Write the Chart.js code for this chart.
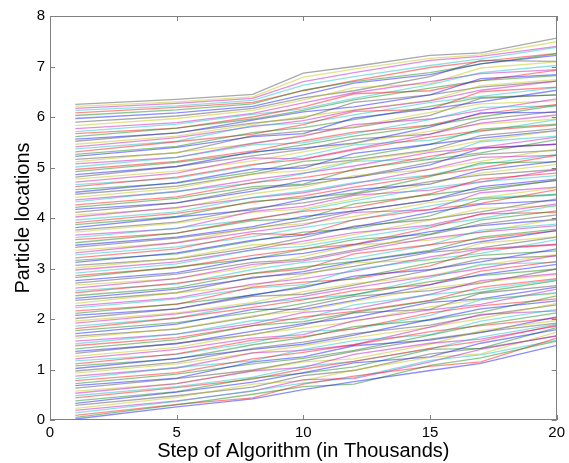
<!DOCTYPE html>
<html>
<head>
<meta charset="utf-8">
<script src="https://cdn.jsdelivr.net/npm/chart.js@4"></script>
<style>
  html, body { margin: 0; padding: 0; background: #fff; }
</style>
</head>
<body>
<canvas id="plot" width="569" height="463"></canvas>
<script>
const steps = [1, 5, 8, 10, 12, 15, 17, 20];

// particle positions, one array per step, one entry per particle
const pos1 = [
  0.02,0.05,0.09,0.14,0.19,0.23,0.29,0.33,0.38,0.44,
  0.48,0.53,0.57,0.63,0.68,0.72,0.78,0.82,0.87,0.93,
  0.97,1.02,1.07,1.11,1.17,1.21,1.26,1.32,1.36,1.41,
  1.47,1.51,1.56,1.62,1.66,1.71,1.77,1.81,1.86,1.92,
  1.96,2.01,2.07,2.11,2.16,2.22,2.26,2.31,2.37,2.41,
  2.46,2.52,2.56,2.61,2.67,2.71,2.76,2.82,2.86,2.91,
  2.97,3.01,3.06,3.12,3.16,3.21,3.27,3.31,3.36,3.42,
  3.46,3.51,3.57,3.61,3.66,3.72,3.76,3.81,3.87,3.91,
  3.96,4.02,4.06,4.11,4.17,4.21,4.26,4.32,4.36,4.41,
  4.47,4.51,4.56,4.62,4.66,4.71,4.77,4.81,4.86,4.92,
  4.96,5.01,5.07,5.11,5.16,5.22,5.26,5.31,5.37,5.41,
  5.46,5.52,5.56,5.61,5.67,5.71,5.77,5.83,5.90,5.97,
  6.03,6.08,6.13,6.17,6.21,6.25
];
const pos5 = [
  0.26,0.30,0.31,0.37,0.38,0.45,0.48,0.55,0.56,0.64,
  0.66,0.72,0.72,0.82,0.83,0.91,0.94,1.04,1.03,1.11,
  1.14,1.22,1.21,1.31,1.30,1.40,1.44,1.52,1.51,1.59,
  1.63,1.70,1.70,1.81,1.80,1.90,1.93,2.02,2.02,2.10,
  2.12,2.20,2.20,2.30,2.29,2.40,2.42,2.52,2.52,2.59,
  2.62,2.71,2.69,2.80,2.80,2.89,2.92,3.03,3.02,3.09,
  3.13,3.20,3.19,3.31,3.29,3.39,3.43,3.51,3.51,3.60,
  3.62,3.70,3.70,3.80,3.79,3.90,3.92,4.02,4.03,4.09,
  4.12,4.21,4.19,4.30,4.30,4.39,4.42,4.53,4.52,4.59,
  4.63,4.70,4.69,4.81,4.79,4.89,4.93,5.02,5.02,5.10,
  5.12,5.20,5.20,5.30,5.29,5.40,5.42,5.51,5.52,5.59,
  5.62,5.69,5.68,5.78,5.78,5.86,5.89,5.97,6.02,6.08,
  6.14,6.19,6.22,6.27,6.30,6.35
];
const pos8 = [
  0.42,0.51,0.44,0.58,0.57,0.71,0.65,0.75,0.83,0.81,
  0.85,0.97,0.98,0.99,1.15,1.11,1.21,1.17,1.33,1.33,
  1.42,1.40,1.49,1.58,1.53,1.62,1.70,1.69,1.76,1.87,
  1.87,1.97,1.91,2.06,2.04,2.19,2.13,2.23,2.31,2.29,
  2.33,2.45,2.48,2.47,2.63,2.61,2.69,2.66,2.83,2.81,
  2.91,2.90,2.98,3.08,3.03,3.12,3.20,3.19,3.26,3.37,
  3.37,3.47,3.41,3.56,3.54,3.69,3.63,3.73,3.81,3.79,
  3.83,3.95,3.98,3.97,4.13,4.11,4.19,4.16,4.33,4.31,
  4.41,4.40,4.48,4.58,4.53,4.62,4.70,4.69,4.76,4.87,
  4.87,4.97,4.91,5.06,5.04,5.19,5.13,5.23,5.31,5.29,
  5.33,5.45,5.48,5.47,5.63,5.61,5.69,5.66,5.83,5.81,
  5.86,5.88,5.94,5.96,6.00,6.05,6.07,6.13,6.17,6.21,
  6.26,6.29,6.33,6.37,6.40,6.45
];
const pos10 = [
  0.60,0.66,0.71,0.73,0.80,0.78,0.88,0.94,0.93,1.01,
  1.06,1.04,1.15,1.17,1.25,1.22,1.34,1.40,1.38,1.47,
  1.54,1.50,1.63,1.65,1.75,1.69,1.82,1.88,1.91,1.95,
  2.04,2.00,2.13,2.16,2.24,2.19,2.31,2.38,2.40,2.45,
  2.54,2.49,2.62,2.65,2.73,2.68,2.80,2.87,2.90,2.94,
  3.03,2.99,3.12,3.15,3.24,3.18,3.30,3.38,3.39,3.44,
  3.54,3.49,3.61,3.66,3.72,3.67,3.81,3.86,3.89,3.95,
  4.03,3.99,4.13,4.15,4.23,4.18,4.30,4.37,4.40,4.44,
  4.53,4.50,4.61,4.65,4.74,4.67,4.80,4.88,4.89,4.94,
  5.04,4.99,5.12,5.16,5.23,5.17,5.31,5.36,5.39,5.45,
  5.53,5.49,5.62,5.64,5.72,5.67,5.79,5.85,5.88,5.93,
  6.01,5.98,6.10,6.13,6.20,6.16,6.28,6.34,6.38,6.44,
  6.53,6.52,6.63,6.70,6.79,6.87
];
const pos12 = [
  0.76,0.71,0.87,0.84,0.82,0.99,0.98,1.13,1.05,1.16,
  1.16,1.30,1.21,1.36,1.47,1.38,1.49,1.57,1.49,1.63,
  1.71,1.68,1.85,1.81,1.80,1.97,1.95,2.12,2.03,2.13,
  2.15,2.28,2.20,2.35,2.45,2.37,2.48,2.56,2.48,2.62,
  2.70,2.67,2.85,2.81,2.79,2.98,2.95,3.11,3.04,3.13,
  3.14,3.29,3.20,3.34,3.46,3.37,3.47,3.57,3.48,3.61,
  3.71,3.67,3.84,3.82,3.79,3.97,3.96,4.11,4.03,4.14,
  4.14,4.28,4.21,4.34,4.45,4.38,4.47,4.56,4.49,4.61,
  4.70,4.68,4.84,4.81,4.80,4.97,4.95,5.12,5.03,5.13,
  5.15,5.28,5.20,5.35,5.45,5.37,5.48,5.56,5.48,5.62,
  5.70,5.67,5.85,5.81,5.79,5.98,5.95,6.11,6.04,6.13,
  6.14,6.29,6.20,6.34,6.46,6.37,6.48,6.58,6.52,6.67,
  6.70,6.72,6.80,6.88,6.95,7.00
];
const pos15 = [
  0.98,1.08,1.06,1.18,1.15,1.24,1.31,1.25,1.40,1.42,
  1.41,1.52,1.50,1.60,1.58,1.68,1.75,1.69,1.84,1.84,
  1.88,1.99,1.98,2.12,2.07,2.18,2.24,2.19,2.33,2.36,
  2.37,2.48,2.49,2.61,2.56,2.68,2.74,2.68,2.82,2.85,
  2.86,2.97,2.98,3.11,3.05,3.18,3.23,3.17,3.32,3.34,
  3.36,3.47,3.47,3.60,3.56,3.67,3.73,3.68,3.81,3.84,
  3.86,3.96,3.97,4.11,4.04,4.17,4.24,4.16,4.31,4.35,
  4.35,4.46,4.48,4.60,4.55,4.68,4.72,4.67,4.82,4.84,
  4.85,4.97,4.96,5.10,5.05,5.16,5.22,5.17,5.30,5.33,
  5.35,5.46,5.46,5.60,5.54,5.66,5.72,5.66,5.80,5.83,
  5.84,5.95,5.96,6.09,6.03,6.16,6.21,6.15,6.29,6.32,
  6.33,6.44,6.44,6.57,6.52,6.64,6.70,6.66,6.80,6.84,
  6.88,6.98,7.02,7.12,7.16,7.22
];
const pos17 = [
  1.12,1.23,1.15,1.29,1.40,1.31,1.42,1.52,1.42,1.56,
  1.64,1.60,1.77,1.74,1.73,1.89,1.87,1.96,2.09,2.01,
  2.07,2.20,2.13,2.26,2.38,2.29,2.39,2.51,2.40,2.53,
  2.63,2.58,2.76,2.73,2.71,2.88,2.86,2.95,3.08,3.00,
  3.06,3.19,3.13,3.26,3.37,3.30,3.39,3.50,3.41,3.53,
  3.62,3.59,3.76,3.72,3.72,3.88,3.85,3.96,4.08,3.99,
  4.07,4.19,4.12,4.27,4.37,4.29,4.40,4.50,4.40,4.54,
  4.62,4.58,4.77,4.72,4.71,4.89,4.85,4.95,5.09,4.99,
  5.06,5.20,5.12,5.26,5.38,5.29,5.39,5.51,5.40,5.53,
  5.63,5.58,5.76,5.73,5.71,5.88,5.86,5.95,6.08,6.00,
  6.06,6.19,6.13,6.26,6.37,6.30,6.39,6.50,6.41,6.53,
  6.62,6.59,6.76,6.72,6.72,6.88,6.86,6.97,7.12,7.05,
  7.05,7.10,7.15,7.20,7.23,7.27
];
const pos20 = [
  1.48,1.56,1.62,1.58,1.67,1.74,1.66,1.79,1.83,1.88,
  1.90,1.86,1.97,1.92,2.04,2.12,2.02,2.19,2.16,2.31,
  2.28,2.36,2.46,2.40,2.52,2.59,2.51,2.66,2.63,2.76,
  2.80,2.78,2.90,2.88,2.99,3.08,2.99,3.14,3.12,3.26,
  3.28,3.25,3.39,3.35,3.47,3.57,3.48,3.63,3.62,3.75,
  3.78,3.75,3.88,3.85,3.98,4.06,3.97,4.14,4.11,4.25,
  4.28,4.24,4.38,4.35,4.46,4.56,4.47,4.61,4.60,4.75,
  4.77,4.74,4.89,4.84,4.96,5.06,4.96,5.12,5.11,5.24,
  5.26,5.24,5.37,5.34,5.46,5.55,5.46,5.62,5.60,5.73,
  5.77,5.73,5.86,5.84,5.95,6.04,5.96,6.11,6.09,6.23,
  6.25,6.22,6.36,6.32,6.44,6.53,6.44,6.59,6.58,6.71,
  6.74,6.71,6.84,6.82,6.93,7.02,6.94,7.09,7.10,7.22,
  7.25,7.26,7.38,7.40,7.49,7.56
];

const xTicks = [0, 5, 10, 15, 20];
const yTicks = [0, 1, 2, 3, 4, 5, 6, 7, 8];

// matlab default line colour order, washed out like the thin lines in the figure
const lineColors = [
  'rgba(0,0,255,0.45)', 'rgba(0,128,0,0.45)', 'rgba(255,0,0,0.45)', 'rgba(0,191,191,0.45)',
  'rgba(191,0,191,0.45)', 'rgba(191,191,0,0.45)', 'rgba(64,64,64,0.45)'
];

const columns = [pos1, pos5, pos8, pos10, pos12, pos15, pos17, pos20];
const datasets = pos1.map((_, i) => ({
  data: steps.map((s, k) => ({ x: s, y: columns[k][i] })),
  borderColor: lineColors[i % lineColors.length],
  borderWidth: 1.3,
  pointRadius: 0,
  tension: 0,
  fill: false
}));

// box round the axes with inward ticks, like matlab
const frame = {
  id: 'frame',
  afterDraw(chart) {
    const { ctx, chartArea: a, scales: { x, y } } = chart;
    ctx.save();
    ctx.strokeStyle = '#808080';
    ctx.lineWidth = 1;
    ctx.strokeRect(Math.round(a.left) + 0.5, Math.round(a.top) + 0.5,
      Math.round(a.right - a.left) - 1, Math.round(a.bottom - a.top) - 1);
    ctx.beginPath();
    x.ticks.forEach(t => {
      const px = Math.round(x.getPixelForValue(t.value)) + 0.5;
      ctx.moveTo(px, a.bottom); ctx.lineTo(px, a.bottom - 5);
      ctx.moveTo(px, a.top); ctx.lineTo(px, a.top + 5);
    });
    y.ticks.forEach(t => {
      const py = Math.round(y.getPixelForValue(t.value)) + 0.5;
      ctx.moveTo(a.left, py); ctx.lineTo(a.left + 5, py);
      ctx.moveTo(a.right, py); ctx.lineTo(a.right - 5, py);
    });
    ctx.stroke();
    ctx.restore();
  }
};

const tickFont = { family: '"Liberation Sans", Arial, sans-serif', size: 15 };
const titleFont = { family: '"Liberation Sans", Arial, sans-serif', size: 20 };

new Chart(document.getElementById('plot'), {
  type: 'line',
  data: { datasets: datasets },
  options: {
    responsive: false,
    animation: false,
    devicePixelRatio: 1,
    layout: { padding: { top: 16, right: 8, left: 0, bottom: 0 } },
    plugins: { legend: { display: false }, tooltip: { enabled: false } },
    scales: {
      x: {
        type: 'linear', min: 0, max: 20,
        afterBuildTicks: s => { s.ticks = xTicks.map(v => ({ value: v })); },
        afterFit: s => { s.height = 43; },
        grid: { display: false, drawTicks: false },
        border: { display: false },
        ticks: { font: tickFont, color: '#000', padding: 4, maxRotation: 0 },
        title: { display: true, text: 'Step of Algorithm (in Thousands)', font: titleFont, color: '#000', padding: { top: 0, bottom: 0 } }
      },
      y: {
        type: 'linear', min: 0, max: 8,
        afterBuildTicks: s => { s.ticks = yTicks.map(v => ({ value: v })); },
        afterFit: s => { s.width = 50; },
        grid: { display: false, drawTicks: false },
        border: { display: false },
        ticks: { font: tickFont, color: '#000', padding: 5 },
        title: { display: true, text: 'Particle locations', font: titleFont, color: '#000', padding: { top: 11, bottom: 0 } }
      }
    }
  },
  plugins: [frame]
});
</script>
</body>
</html>
